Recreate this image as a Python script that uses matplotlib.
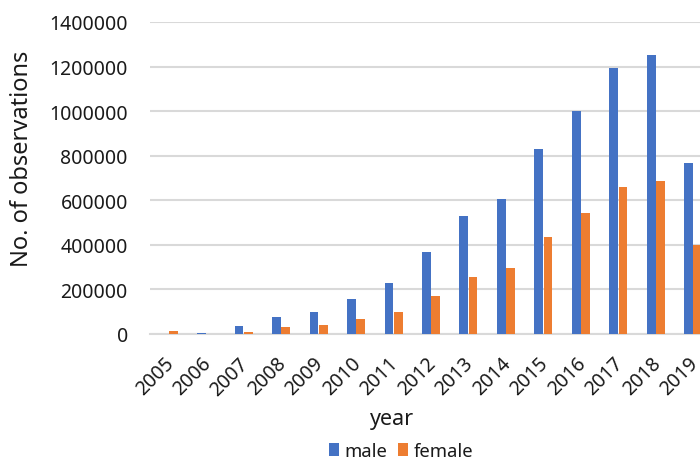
import matplotlib
matplotlib.use("Agg")
import matplotlib.pyplot as plt
import matplotlib.transforms as mtransforms
import numpy as np

plt.rcParams['font.family'] = ['Noto Sans', 'DejaVu Sans']

years = ['2005', '2006', '2007', '2008', '2009', '2010', '2011', '2012',
         '2013', '2014', '2015', '2016', '2017', '2018', '2019']
male = [0, 5000, 34000, 75000, 100000, 157000, 229000, 368000, 531000,
        608000, 830000, 1002000, 1195000, 1251000, 767000]
female = [12000, 0, 10000, 31000, 42000, 67000, 100000, 169000, 257000,
          297000, 435000, 543000, 658000, 686000, 401000]
yticks = [0, 200000, 400000, 600000, 800000, 1000000, 1200000, 1400000]

W, H = 700, 460
fig = plt.figure(figsize=(7, 4.6), dpi=100)
ax = fig.add_axes([150 / W, 1 - 335 / H, 562 / W, 312 / H])

x = np.arange(len(years))
bw = 0.235
ax.bar(x - bw / 2 - 0.005, male, width=bw, color='#4472C4', label='male', zorder=3)
ax.bar(x + bw / 2 + 0.005, female, width=bw, color='#ED7D31', label='female', zorder=3)

ax.set_xlim(-0.5, len(years) - 0.5)
ax.set_ylim(0, 1400000)
ax.set_yticks(yticks)
ax.set_yticklabels([str(v) for v in yticks])
ax.set_xticks(x)
ax.set_xticklabels(years, rotation=45, ha='right', va='center', rotation_mode='anchor')

ax.grid(axis='y', color='#D9D9D9', linewidth=1.5, zorder=0)
ax.set_axisbelow(True)
for s in ['top', 'right', 'left']:
    ax.spines[s].set_visible(False)
ax.spines['bottom'].set_color('#D9D9D9')
ax.spines['bottom'].set_linewidth(1.5)
ax.tick_params(axis='both', length=0, labelsize=14, colors='#1a1a1a')
ax.tick_params(axis='y', pad=16)
ax.tick_params(axis='x', pad=19)
offset = mtransforms.ScaledTranslation(2 / 100, 0, fig.dpi_scale_trans)
for lab in ax.get_xticklabels():
    lab.set_transform(lab.get_transform() + offset)

ax.set_ylabel('No. of observations', fontsize=17, color='#1a1a1a')
ax.yaxis.set_label_coords((34 - 150) / 562, (335 - 159) / 312)
ax.set_xlabel('year', fontsize=15.5, color='#1a1a1a', va='center')
ax.xaxis.set_label_coords((392 - 150) / 562, -(420 - 335) / 312)

fig.legend(loc='center', bbox_to_anchor=(401 / W, 1 - 452 / H), ncol=2,
           frameon=False, fontsize=13.3, handlelength=0.55, handleheight=0.7,
           handletextpad=0.3, columnspacing=0.55, labelcolor='#1a1a1a')

fig.savefig('out.png', dpi=100)
